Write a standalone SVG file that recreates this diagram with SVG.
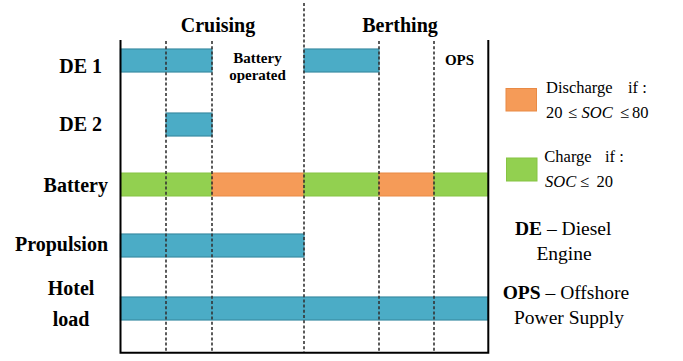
<svg xmlns="http://www.w3.org/2000/svg" width="683" height="361" viewBox="0 0 683 361">
<style>
text { font-family: "Liberation Serif", "Times New Roman", serif; fill: #000; }
.b { font-weight: bold; }
.lab { font-size: 20px; font-weight: bold; }
.sm { font-size: 15px; font-weight: bold; }
.leg { font-size: 16.5px; }
.key { font-size: 19.5px; }
.it { font-style: italic; }
.blue { fill: #4BACC6; stroke: #3A8CA3; stroke-width: 1.2; }
.green { fill: #92D050; stroke: #86C443; stroke-width: 1; }
.orange { fill: #F59B58; stroke: #E98A45; stroke-width: 1; }
.dash { stroke: #333; stroke-width: 1.6; stroke-dasharray: 3 2.2; fill: none; }
.axis { stroke: #000; stroke-width: 2; fill: none; }
</style>
<rect width="683" height="361" fill="#fff"/>

<g id="bars">
  <rect id="de1-cruise" class="blue" x="120.5" y="49" width="91.5" height="23"/>
  <rect id="de1-berth" class="blue" x="304" y="49" width="75" height="23"/>
  <rect id="de2" class="blue" x="166" y="113" width="46" height="23"/>
  <rect class="green" x="120.5" y="173" width="91.5" height="23"/>
  <rect class="orange" x="212" y="173" width="92" height="23"/>
  <rect class="green" x="304" y="173" width="75" height="23"/>
  <rect class="orange" x="379" y="173" width="55" height="23"/>
  <rect class="green" x="434" y="173" width="54" height="23"/>
  <rect id="propulsion" class="blue" x="120.5" y="234" width="183.5" height="23"/>
  <rect id="hotel" class="blue" x="120.5" y="297" width="367.5" height="23"/>
</g>

<g id="grid">
  <line class="dash" x1="166" y1="41" x2="166" y2="352"/>
  <line class="dash" x1="212" y1="41" x2="212" y2="352"/>
  <line class="dash" x1="304" y1="3" x2="304" y2="352"/>
  <line class="dash" x1="379" y1="41" x2="379" y2="352"/>
  <line class="dash" x1="434" y1="41" x2="434" y2="352"/>
</g>

<g id="axes">
  <path class="axis" d="M120.5,40 V352.7 H488.3 V40"/>
</g>

<g id="phase-labels">
  <text class="lab" x="218" y="32" text-anchor="middle">Cruising</text>
  <text class="lab" x="400" y="32" text-anchor="middle">Berthing</text>
  <text class="sm" x="257.5" y="62.5" text-anchor="middle">Battery</text>
  <text class="sm" x="257.5" y="80" text-anchor="middle">operated</text>
  <text class="sm" x="459.5" y="65" text-anchor="middle">OPS</text>
</g>

<g id="row-labels">
  <text class="lab" x="102" y="72.5" text-anchor="end">DE 1</text>
  <text class="lab" x="102" y="131" text-anchor="end">DE 2</text>
  <text class="lab" x="108" y="191.5" text-anchor="end">Battery</text>
  <text class="lab" x="108" y="250.5" text-anchor="end">Propulsion</text>
  <text class="lab" x="71" y="294.5" text-anchor="middle">Hotel</text>
  <text class="lab" x="71" y="325.5" text-anchor="middle">load</text>
</g>

<g id="legend-discharge">
  <rect class="orange" x="506" y="88.5" width="30.5" height="22.5"/>
  <text class="leg" x="546" y="93.3">Discharge</text>
  <text class="leg" x="628" y="93.3">if :</text>
  <text class="leg" x="546" y="118.3">20</text>
  <text class="leg" x="568" y="118.3">≤</text>
  <text class="leg it" x="581.5" y="118.3">SOC</text>
  <text class="leg" x="620" y="118.3">≤</text>
  <text class="leg" x="632" y="118.3">80</text>
</g>

<g id="legend-charge">
  <rect class="green" x="506.5" y="158" width="30.5" height="23"/>
  <text class="leg" x="544.3" y="162.3">Charge</text>
  <text class="leg" x="605" y="162.3">if :</text>
  <text class="leg it" x="545" y="186.7">SOC</text>
  <text class="leg" x="580" y="186.7">≤</text>
  <text class="leg" x="596.5" y="186.7">20</text>
</g>

<g id="abbreviations">
  <text class="key" x="515" y="235"><tspan class="b">DE</tspan> – Diesel</text>
  <text class="key" x="564" y="260" text-anchor="middle">Engine</text>
  <text class="key" x="502.7" y="299.3"><tspan class="b">OPS</tspan> – Offshore</text>
  <text class="key" x="569" y="324" text-anchor="middle">Power Supply</text>
</g>
</svg>
